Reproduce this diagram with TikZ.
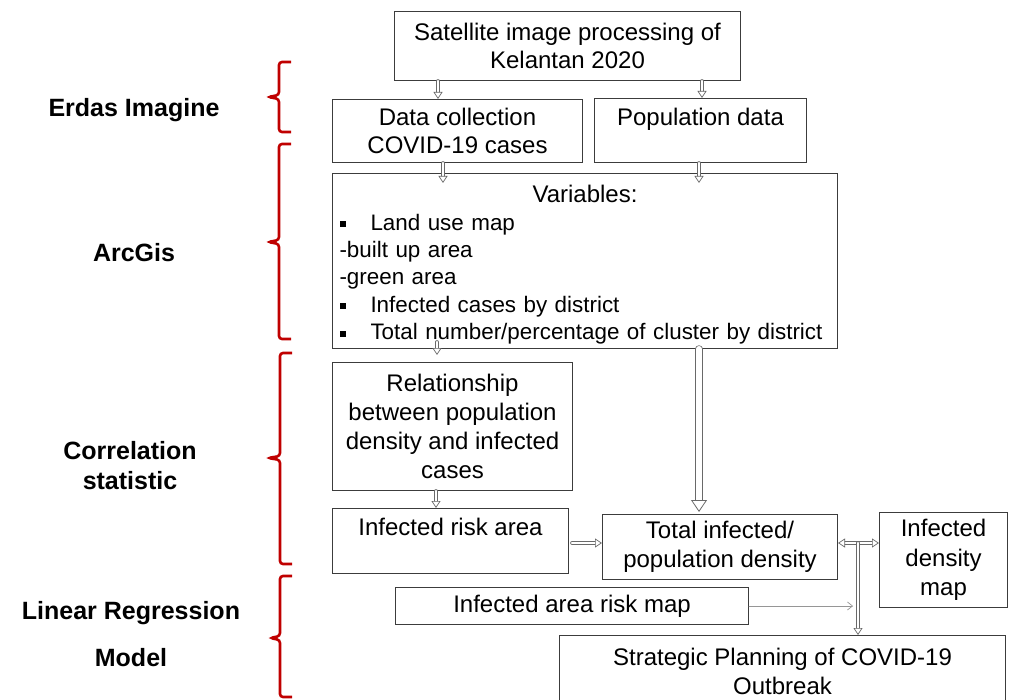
\documentclass[tikz,border=0pt]{standalone}
\usepackage{fontspec}
\setmainfont{Liberation Sans}
\usetikzlibrary{arrows.meta,calc,positioning}
\definecolor{boxgray}{RGB}{60,60,60}
\definecolor{arrowgray}{RGB}{105,105,105}
\definecolor{bracered}{RGB}{192,0,0}
\newcommand{\sqbullet}{\makebox[31pt][l]{\rule[3pt]{6pt}{6pt}}}

\begin{document}
\begin{tikzpicture}[x=1pt,y=-1pt,line cap=round,
  box/.style={draw=boxgray,line width=1pt,inner sep=0pt,align=center,anchor=north west,
    font=\fontsize{24}{28}\selectfont},
  lbl/.style={align=center,font=\fontsize{25}{30}\selectfont\bfseries},
  hollow/.style={draw=arrowgray,double=white,double distance=2.4pt,line width=.6pt,
    -{Triangle[open,fill=white,line width=.7pt,length=7pt,width=9pt]}},
  widehollow/.style={draw=arrowgray,double=white,double distance=6pt,line width=.7pt,
    -{Triangle[open,fill=white,line width=.8pt,length=12pt,width=16pt]}},
  thinarrow/.style={draw=arrowgray!70,line width=.7pt,-{Straight Barb[length=5pt,width=8pt]}},
  redbrace/.style={draw=bracered,line width=2.6pt,rounded corners=3pt,line cap=butt}]
\clip (0,0) rectangle (1011,700);
\fill[white] (0,0) rectangle (1011,700);

% boxes
\node[box,minimum width=346pt,minimum height=69pt] (sat) at (394,11)
  {Satellite image processing of\\Kelantan 2020};
\node[box,minimum width=250pt,minimum height=63pt] (covid) at (332,99)
  {Data collection\\COVID-19 cases};
\node[box,minimum width=212pt,minimum height=64pt] (pop) at (594,98)
  {Population data\\\mbox{}};
\node[box,minimum width=505pt,minimum height=175pt,text width=491pt,align=left,
  font=\fontsize{22.4}{27.4}\selectfont] (vars) at (332,173)
  {\rule{0pt}{25pt}\makebox[491pt]{\fontsize{24}{28}\selectfont Variables:}\\[0pt]
   \sqbullet Land use map\\
   -built up area\\
   -green area\\
   \sqbullet Infected cases by district\\
   \sqbullet Total number/percentage of cluster by district};
\node[box,minimum width=240pt,minimum height=128pt,font=\fontsize{24}{29}\selectfont] (rel) at (332,362)
  {Relationship\\between population\\density and infected\\cases};
\node[box,minimum width=236pt,minimum height=65pt] (risk) at (332,508)
  {Infected risk area\\\mbox{}};
\node[box,minimum width=235pt,minimum height=65pt,font=\fontsize{24}{29}\selectfont] (total) at (602,514)
  {Total infected/\\population density};
\node[box,minimum width=128pt,minimum height=95pt,font=\fontsize{24}{29.5}\selectfont] (dens) at (879,512)
  {Infected\\density\\map};
\node[box,minimum width=353pt,minimum height=37pt] (riskmap) at (395,587)
  {Infected area risk map};
\node[box,minimum width=446pt,minimum height=71pt,font=\fontsize{24}{29}\selectfont] (plan) at (559,635)
  {Strategic Planning of COVID-19\\Outbreak};

% left labels
\node[lbl] (erdas) at (134,110) {Erdas Imagine};
\node[lbl] (arcgis) at (134,253) {ArcGis};
\node[lbl] (corr) at (130,466) {Correlation\\statistic};
\node[lbl] (linreg) at (131,634.5) {Linear Regression\\[17pt]Model};

% braces
\draw[redbrace] (291,62) -- (279,62) -- (279,95) -- (268,97) -- (279,99) -- (279,132) -- (291,132);
\draw[redbrace] (291,144) -- (279,144) -- (279,240) -- (268,242) -- (279,244) -- (279,339) -- (291,339);
\draw[redbrace] (292,353) -- (280,353) -- (280,456) -- (268,458) -- (280,460) -- (280,564) -- (292,564);
\draw[redbrace] (292,576) -- (280,576) -- (280,636) -- (270,638) -- (280,640) -- (280,697) -- (292,697);

% connectors
\coordinate (split) at (858,543);
\coordinate (join) at (853,606);
\draw[hollow] (438,0 |- sat.south) -- (438,0 |- covid.north);
\draw[hollow] (702,0 |- sat.south) -- (702,0 |- pop.north);
\draw[hollow] (443,0 |- covid.south) -- ([yshift=-10pt]vars.north -| 443,0);
\draw[hollow] (699,0 |- pop.south) -- ([yshift=-10pt]vars.north -| 699,0);
\draw[hollow] ([yshift=7pt]vars.south -| 437,0) -- ([yshift=7pt]rel.north -| 437,0);
\draw[widehollow] (699,0 |- vars.south) -- ([yshift=2pt]total.north -| 699,0);
\draw[hollow] (436,0 |- rel.south) -- (436,0 |- risk.north);
\draw[hollow] ([xshift=3pt]risk.east |- 0,543) -- (total.west |- 0,543);
\draw[draw=arrowgray,double=white,double distance=2.4pt,line width=.6pt,
  {Triangle[open,fill=white,line width=.7pt,length=7pt,width=9pt]}-{Triangle[open,fill=white,line width=.7pt,length=7pt,width=9pt]}]
  (total.east |- split) -- (dens.west |- split);
\draw[hollow] (split) -- (split |- plan.north);
\draw[thinarrow] (riskmap.east |- join) -- (join);
\end{tikzpicture}
\end{document}
